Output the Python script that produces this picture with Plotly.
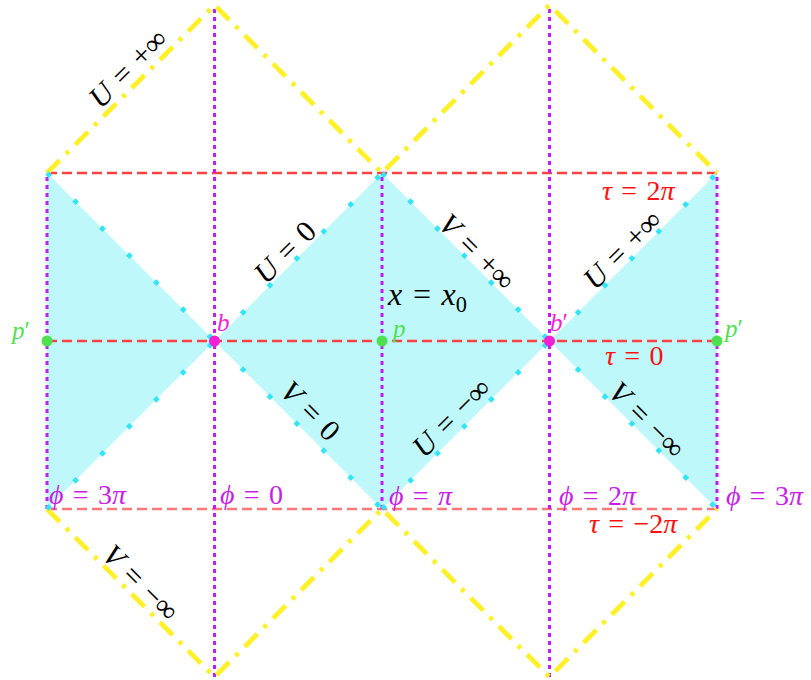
import plotly.graph_objects as go

# ---- data (phi in units of pi, tau in units of 2*pi) ----
phi_lines = [-1, 0, 1, 2, 3]
phi_line_lo = [-1, -2, -1, -2, -1]
phi_line_hi = [1, 2, 1, 2, 1]
tau_lines = [1, 0, -1]
tau_colors = ["#ff4040", "#ff4040", "#ff7777"]

top_zig_x = [-1, 0, 1, 2, 3]
top_zig_y = [1, 2, 1, 2, 1]
bot_zig_x = [-1, 0, 1, 2, 3]
bot_zig_y = [-1, -2, -1, -2, -1]

# shaded regions (polygons)
regions = [
    ([-1, 0, -1], [1, 0, -1]),
    ([0, 1, 2, 1], [0, 1, 0, -1]),
    ([2, 3, 3], [0, 1, -1]),
]

# null lines bounding the shaded regions
null_segments = [
    ([-1, 0], [1, 0]), ([-1, 0], [-1, 0]),
    ([0, 1], [0, 1]), ([0, 1], [0, -1]),
    ([1, 2], [1, 0]), ([1, 2], [-1, 0]),
    ([2, 3], [0, 1]), ([2, 3], [0, -1]),
]

pts_x = [-1, 0, 1, 2, 3]
pts_y = [0, 0, 0, 0, 0]
pts_colors = ["#4ee04e", "#f41fd4", "#4ee04e", "#f41fd4", "#4ee04e"]
pts_labels = ["<i>p</i>′", "<i>b</i>", "<i>p</i>", "<i>b</i>′", "<i>p</i>′"]
pts_label_x = [-1.161, 0.052, 1.096, 2.058, 3.096]
pts_label_y = [0.060, 0.112, 0.075, 0.112, 0.075]

S = "\u2004=\u2004"
line_labels = ["<i>U</i>" + S + "+∞", "<i>U</i>" + S + "0", "<i>V</i>" + S + "+∞",
               "<i>U</i>" + S + "+∞", "<i>x</i>" + S + "<i>x</i><sub>0</sub>",
               "<i>V</i>" + S + "0", "<i>U</i>" + S + "−∞",
               "<i>V</i>" + S + "−∞", "<i>V</i>" + S + "−∞"]
line_label_x = [-0.522, 0.421, 1.567, 2.433, 1.268, 0.576, 1.412, 2.582, -0.439]
line_label_y = [1.625, 0.530, 0.530, 0.542, 0.262, -0.411, -0.458, -0.470, -1.440]
line_label_angle = [-45, -45, 45, -45, 0, 45, -45, 45, 45]
line_label_size = [30, 30, 30, 30, 32, 30, 30, 30, 30]

tau_labels = ["<i>τ</i>" + S + "2<i>π</i>", "<i>τ</i>" + S + "0", "<i>τ</i>" + S + "−2<i>π</i>"]
tau_label_x = [2.534, 2.510, 2.504]
tau_label_y = [0.893, -0.089, -1.089]

phi_labels = ["<i>ϕ</i>" + S + "3<i>π</i>", "<i>ϕ</i>" + S + "0", "<i>ϕ</i>" + S + "<i>π</i>",
              "<i>ϕ</i>" + S + "2<i>π</i>", "<i>ϕ</i>" + S + "3<i>π</i>"]
phi_label_x = [-0.755, 0.218, 1.233, 2.290, 3.287]
phi_label_y = [-0.911, -0.911, -0.917, -0.917, -0.917]

FONT = "Liberation Serif"

fig = go.Figure()

for xs, ys in regions:
    fig.add_trace(go.Scatter(x=xs, y=ys, fill="toself", mode="none",
                             fillcolor="#bff8fb", hoverinfo="skip"))

for t, c in zip(tau_lines, tau_colors):
    fig.add_trace(go.Scatter(x=[phi_lines[0], phi_lines[-1]], y=[t, t], mode="lines",
                             line=dict(color=c, width=2.6, dash="10px,5px")))

for p, lo, hi in zip(phi_lines, phi_line_lo, phi_line_hi):
    fig.add_trace(go.Scatter(x=[p, p], y=[lo, hi], mode="lines",
                             line=dict(color="#c21bff", width=3, dash="4px,4px")))

fig.add_trace(go.Scatter(x=top_zig_x, y=top_zig_y, mode="lines",
                         line=dict(color="#fff02a", width=4.8, dash="18px,9px,4px,9px")))
fig.add_trace(go.Scatter(x=bot_zig_x, y=bot_zig_y, mode="lines",
                         line=dict(color="#fff02a", width=4.8, dash="18px,9px,4px,9px")))

for xs, ys in null_segments:
    fig.add_trace(go.Scatter(x=xs, y=ys, mode="lines",
                             line=dict(color="#33e4f7", width=4.8, dash="4.8px,33.3px")))

fig.add_trace(go.Scatter(x=pts_x, y=pts_y, mode="markers",
                         marker=dict(color=pts_colors, size=11, line=dict(width=0))))

ann = []
for t, x, y, c in zip(pts_labels, pts_label_x, pts_label_y, pts_colors):
    ann.append(dict(x=x, y=y, text=t, showarrow=False, xanchor="center", yanchor="middle",
                    font=dict(family=FONT, size=25, color=c)))
for t, x, y, a, s in zip(line_labels, line_label_x, line_label_y, line_label_angle, line_label_size):
    ann.append(dict(x=x, y=y, text=t, showarrow=False, textangle=a, xanchor="center",
                    yanchor="middle", font=dict(family=FONT, size=s, color="black")))
for t, x, y in zip(tau_labels, tau_label_x, tau_label_y):
    ann.append(dict(x=x, y=y, text=t, showarrow=False, xanchor="center", yanchor="middle",
                    font=dict(family=FONT, size=28, color="#ff1010")))
for t, x, y in zip(phi_labels, phi_label_x, phi_label_y):
    ann.append(dict(x=x, y=y, text=t, showarrow=False, xanchor="center", yanchor="middle",
                    font=dict(family=FONT, size=28, color="#c81ee8")))

fig.update_layout(
    width=811, height=680,
    margin=dict(l=0, r=0, t=0, b=0),
    paper_bgcolor="white", plot_bgcolor="white",
    showlegend=False,
    annotations=ann,
    xaxis=dict(range=[-1.2806, 3.5612], visible=False, fixedrange=True),
    yaxis=dict(range=[-2.0179, 2.0298], visible=False, fixedrange=True),
)

fig.write_html("out.html", config={"displayModeBar": False},
               post_script="document.body.style.margin='0';document.body.style.padding='0';")
